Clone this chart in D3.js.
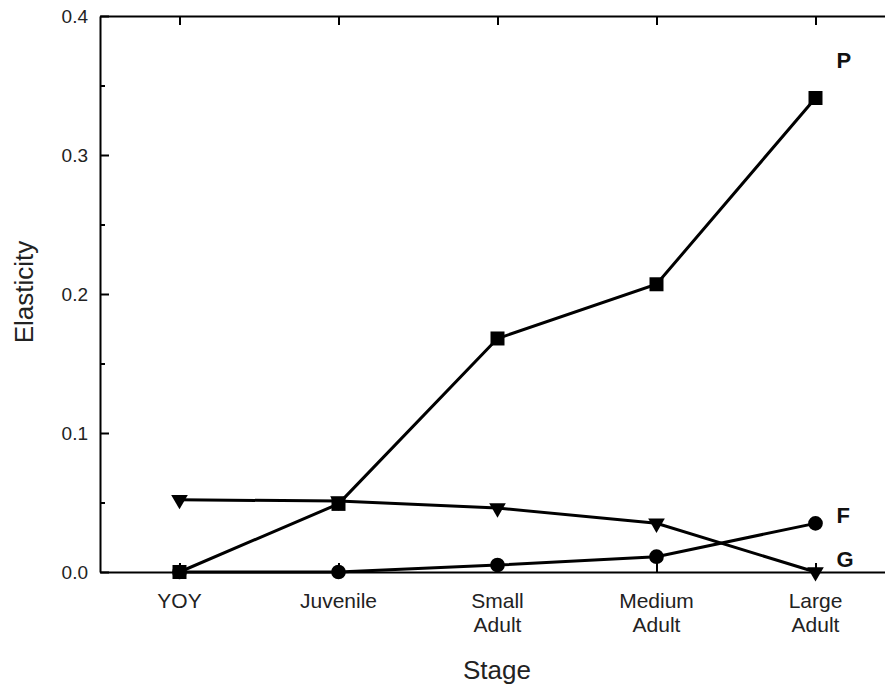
<!DOCTYPE html>
<html><head><meta charset="utf-8">
<script src="https://cdn.jsdelivr.net/npm/d3@7"></script>
<style>body{margin:0;background:#fff}svg{display:block}text{font-family:Arial,"Liberation Sans",sans-serif}</style>
</head><body><svg id="c" width="885" height="686"></svg>
<script>
const categories = ["YOY","Juvenile","Small Adult","Medium Adult","Large Adult"];
const categoryLines = [["YOY"],["Juvenile"],["Small","Adult"],["Medium","Adult"],["Large","Adult"]];
const seriesP = [0.000, 0.049, 0.168, 0.207, 0.341];
const seriesG = [0.052, 0.051, 0.046, 0.035, 0.000];
const seriesF = [0.000, 0.000, 0.005, 0.011, 0.035];
const yTicks = [0.0, 0.1, 0.2, 0.3, 0.4];
const yMinorTicks = [0.05, 0.15, 0.25, 0.35];
const seriesNames = ["G","F","P"];

(function(){
const svg = d3.select("#c");
const x = d3.scalePoint().domain(categories).range([100, 895]).padding(0.5);
const y = d3.scaleLinear().domain([0, 0.4]).range([572, 16]);
const txt = "#222";

const gLeft = svg.append("g").attr("transform","translate(100,0)")
  .call(d3.axisLeft(y).tickValues(yTicks).tickFormat(d3.format(".1f")).tickSizeInner(-9).tickSizeOuter(0).tickPadding(12));
const gMinor = svg.append("g").attr("transform","translate(100,0)")
  .call(d3.axisLeft(y).tickValues(yMinorTicks).tickFormat("").tickSizeInner(-5).tickSizeOuter(0));
gMinor.select(".domain").remove();
const gBottom = svg.append("g").attr("transform","translate(0,572)")
  .call(d3.axisBottom(x).tickSizeInner(-9).tickSizeOuter(0).tickFormat(""));
const gTop = svg.append("g").attr("transform","translate(0,16)")
  .call(d3.axisTop(x).tickSizeInner(-9).tickSizeOuter(0).tickFormat(""));
[gLeft,gMinor,gBottom,gTop].forEach(g=>{
  g.selectAll(".domain").attr("stroke","#000").attr("stroke-width",2);
  g.selectAll(".tick line").attr("stroke","#000").attr("stroke-width",2);
});
gLeft.selectAll(".tick text").attr("font-size",19).attr("fill",txt).attr("dy","0.36em")
  .attr("x",-12).attr("text-anchor","end");

const xl = svg.append("g");
categories.forEach((c,i)=>{
  const t = xl.append("text").attr("x",x(c)).attr("y",608).attr("text-anchor","middle")
    .attr("font-size",21).attr("fill",txt);
  categoryLines[i].forEach((s,j)=>t.append("tspan").attr("x",x(c)).attr("dy",j?24:0).text(s));
});

svg.append("text").attr("x",497).attr("y",679).attr("text-anchor","middle")
  .attr("font-size",26).attr("fill",txt).text("Stage");
svg.append("text").attr("transform","translate(33,292) rotate(-90)").attr("text-anchor","middle")
  .attr("font-size",26).attr("fill",txt).text("Elasticity");

const data = {P:seriesP, G:seriesG, F:seriesF};
const line = d3.line().x((d,i)=>x(categories[i])).y(d=>y(d));
seriesNames.forEach(n=>{
  svg.append("path").datum(data[n]).attr("d",line).attr("fill","none")
    .attr("stroke","#000").attr("stroke-width",3);
});
const sym = {P:d3.symbolSquare, F:d3.symbolCircle, G:d3.symbolTriangle};
const size = {P:196, F:170, G:120};
seriesNames.forEach(n=>{
  svg.append("g").selectAll("path").data(data[n]).join("path")
    .attr("transform",(d,i)=>`translate(${x(categories[i])},${y(d)})` + (n==="G"?" rotate(180)":""))
    .attr("d",d3.symbol(sym[n], size[n])).attr("fill","#000");
});

const labelY = {P:68, F:523, G:567};
["P","F","G"].forEach(n=>{
  svg.append("text").attr("x",x(categories[4])+21).attr("y",labelY[n])
    .attr("font-size",22).attr("font-weight","bold").attr("fill","#111").text(n);
});
})();
</script></body></html>
